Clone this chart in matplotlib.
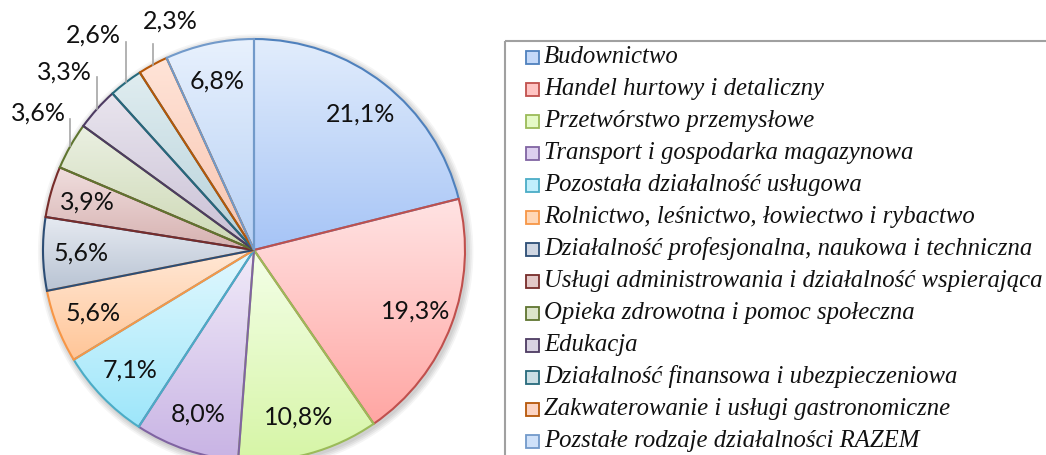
import numpy as np
import matplotlib.pyplot as plt
from matplotlib.colors import LinearSegmentedColormap, to_rgb
from matplotlib.patches import Circle, Rectangle

# dane: udział sekcji PKD
categories = [
    'Budownictwo',
    'Handel hurtowy i detaliczny',
    'Przetwórstwo przemysłowe',
    'Transport i gospodarka magazynowa',
    'Pozostała działalność usługowa',
    'Rolnictwo, leśnictwo, łowiectwo i rybactwo',
    'Działalność profesjonalna, naukowa i techniczna',
    'Usługi administrowania i działalność wspierająca',
    'Opieka zdrowotna i pomoc społeczna',
    'Edukacja',
    'Działalność finansowa i ubezpieczeniowa',
    'Zakwaterowanie i usługi gastronomiczne',
    'Pozstałe rodzaje działalności RAZEM',
]
shares = [21.1, 19.3, 10.8, 8.0, 7.1, 5.6, 5.6, 3.9, 3.6, 3.3, 2.6, 2.3, 6.8]

# kolory (obramowanie, gradient góra -> dół)
edge_colors = ['#4F81BD', '#C0504D', '#9BBB59', '#8064A2', '#4BACC6', '#F79646',
               '#2C4D75', '#772C2A', '#5F7530', '#4D3B62', '#276A7C', '#B65708', '#729ACA']
fill_top = ['#E2EDFC', '#FFE3E3', '#F4FFE8', '#F1EBF9', '#E2F8FE', '#FFE8D6',
            '#E6EAF1', '#F0DEDE', '#EBF0E2', '#E9E5EE', '#E0EDF0', '#FFE4D8', '#E8F1FD']
fill_bottom = ['#A6C4F6', '#FFA6A3', '#D6F5A6', '#C8B3E4', '#9DE6FA', '#FFC597',
               '#B8C3D3', '#D6B1B0', '#CCD8B4', '#C9C0D5', '#B6D1DA', '#F8C4AF', '#B6D0F5']

W, H = 1046, 455
CX, CY, R = 254, 250, 211  # środek i promień koła w pikselach

fig = plt.figure(figsize=(W / 100, H / 100), dpi=100)
ax = fig.add_axes([0, 0, 1, 1])

# delikatny cień pod kołem
for i, a in enumerate([0.05, 0.05, 0.05, 0.04]):
    ax.add_patch(Circle((0.008, -0.01), 1 + 0.008 * (i + 1), color='black', alpha=a, lw=0, zorder=0))
ax.add_patch(Circle((0, 0), 1, color='white', lw=0, zorder=0.5))

wedges, _ = ax.pie(shares, startangle=90, counterclock=False, radius=1,
                   wedgeprops=dict(facecolor='none', linewidth=1.5))

grad = np.linspace(0, 1, 256).reshape(-1, 1)
for w, ec, top, bot in zip(wedges, edge_colors, fill_top, fill_bottom):
    w.set_edgecolor(ec)
    w.set_zorder(2)
    ext = w.get_path().get_extents()
    cmap = LinearSegmentedColormap.from_list('g', [top, bot])
    im = ax.imshow(grad, extent=[ext.x0, ext.x1, ext.y0, ext.y1], origin='upper',
                   cmap=cmap, aspect='auto', zorder=1, interpolation='bilinear')
    im.set_clip_path(w)

# etykiety procentowe
cum = np.cumsum([0] + shares[:-1])
mid = 90 - (cum + np.array(shares) / 2) * 3.6
pct = [f'{v:.1f}%'.replace('.', ',') for v in shares]
outside = {8: (0.13, -0.152, 0.028),
           9: (0.15, -0.156, 0.024),
           10: (0.19, -0.152, 0.033),
           11: (0.10, 0.081, 0.109)}
for i, (ang, txt) in enumerate(zip(mid, pct)):
    t = np.deg2rad(ang)
    if i in outside:
        ln, dx, dy = outside[i]
        x0, y0 = np.cos(t), np.sin(t)
        ax.plot([x0, x0], [y0, y0 + ln], color='#A6A6A6', lw=1.2, zorder=3)
        ax.text(x0 + dx, y0 + ln + dy, txt, ha='center', va='center', fontsize=18,
                family='Lato', color='#111111', zorder=4)
    else:
        ax.text(0.82 * np.cos(t), 0.82 * np.sin(t), txt, ha='center', va='center',
                fontsize=18, family='Lato', color='#111111', zorder=4)

ax.set_xlim(-CX / R, (W - CX) / R)
ax.set_ylim(-(H - CY) / R, CY / R)
ax.set_aspect('auto')
ax.axis('off')

# legenda w pikselach
lax = fig.add_axes([0, 0, 1, 1], facecolor='none')
lax.set_xlim(0, W)
lax.set_ylim(H, 0)
lax.axis('off')
lax.add_patch(Rectangle((505, 41), 600, 500, fill=False, edgecolor='#A0A0A0', lw=1.5,
                        clip_on=False))
for i, name in enumerate(categories):
    y = 57 + 32 * i
    mix = tuple(0.5 * a + 0.5 * b for a, b in zip(to_rgb(fill_top[i]), to_rgb(fill_bottom[i])))
    lax.add_patch(Rectangle((525.5, y - 6.5), 13, 13, facecolor=mix,
                            edgecolor=edge_colors[i], lw=1.3))
    lax.text(544, y, name, ha='left', va='center', fontsize=17.8,
             family='Liberation Serif', style='italic', color='#111111')

fig.savefig('out.png', dpi=100)
